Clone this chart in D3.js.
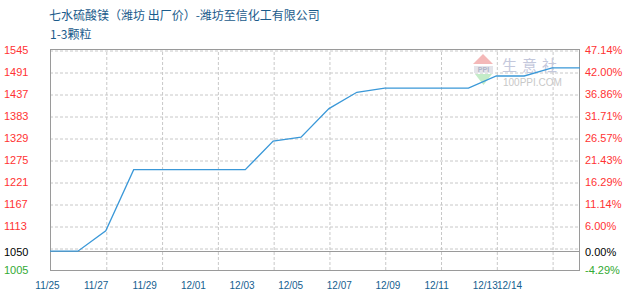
<!DOCTYPE html>
<html><head><meta charset="utf-8">
<script src="https://cdn.jsdelivr.net/npm/d3@7"></script>
<style>
body{margin:0;background:#fff;}
svg{display:block;}
</style></head>
<body><svg id="c" width="630" height="300"></svg>
<script>
const titleText = "七水硫酸镁（潍坊 出厂价）-潍坊至信化工有限公司";
const subTitle = "1-3颗粒";
const dates = ["2024-11-25","2024-11-26","2024-11-27","2024-11-28","2024-11-29","2024-11-30","2024-12-01","2024-12-02","2024-12-03","2024-12-04","2024-12-05","2024-12-06","2024-12-07","2024-12-08","2024-12-09","2024-12-10","2024-12-11","2024-12-12","2024-12-13","2024-12-14"];
const prices = [1050,1050,1100,1250,1250,1250,1250,1250,1320,1330,1400,1440,1450,1450,1450,1450,1480,1480,1500,1500];
const baseValue = 1050;
const leftTicks = [1545,1491,1437,1383,1329,1275,1221,1167,1113,1050,1005];
const rightTickLabels = ["47.14%","42.00%","36.86%","31.71%","26.57%","21.43%","16.29%","11.14%","6.00%","0.00%","-4.29%"];
const gridValues = [1545,1491,1437,1383,1329,1275,1221,1167,1113,1059];
const gridDates = ["2024-11-27","2024-11-29","2024-12-01","2024-12-03","2024-12-05","2024-12-07","2024-12-09","2024-12-11","2024-12-13"];
const xLabelDates = ["2024-11-25","2024-11-27","2024-11-29","2024-12-01","2024-12-03","2024-12-05","2024-12-07","2024-12-09","2024-12-11","2024-12-13","2024-12-14"];

const parse = d3.timeParse("%Y-%m-%d");
const fmt = d3.timeFormat("%m/%d");
const svg = d3.select("#c");
const L = 50, R = 580, T = 50, B = 270;

const x = d3.scaleTime().domain([parse(dates[0]), parse(dates[dates.length-1])]).range([L, R]);
const xLab = d3.scaleTime().domain([parse(dates[0]), parse(dates[dates.length-1])]).range([47, 509]);
const y = d3.scaleLinear().domain([1005, 1545]).range([B, T]);

const font = "'Liberation Sans', Arial, sans-serif";
const cjk = "'Noto Sans CJK SC', sans-serif";

// titles
svg.append("text").attr("x", 49).attr("y", 20).attr("font-family", cjk).attr("font-size", 12)
  .attr("fill", "#1b5b8b").text(titleText);
svg.append("text").attr("x", 50).attr("y", 39).attr("font-family", cjk).attr("font-size", 12)
  .attr("fill", "#1b5b8b").text(subTitle);

// horizontal dashed grid
svg.append("g").attr("transform", `translate(${L},0)`)
  .call(d3.axisLeft(y).tickValues(gridValues).tickSize(-(R-L)).tickFormat(""))
  .call(g => g.select(".domain").remove())
  .call(g => g.selectAll("line").attr("stroke", "#c8c8c8").attr("stroke-dasharray", "3,2")
     .attr("transform", "translate(0,0.5)"));

// vertical dashed grid
svg.append("g").attr("transform", `translate(0,${B})`)
  .call(d3.axisBottom(x).tickValues(gridDates.map(parse)).tickSize(-(B-T)).tickFormat(""))
  .call(g => g.select(".domain").remove())
  .call(g => g.selectAll("line").attr("stroke", "#c8c8c8").attr("stroke-dasharray", "3,2")
     .attr("transform", "translate(0.5,0)"));

// watermark
const wm = svg.append("g");
wm.append("path").attr("d", "M483,54 L493,64 L473,64 Z").attr("fill", "#f4b8b8");
wm.append("rect").attr("x", 474).attr("y", 66).attr("width", 19).attr("height", 7).attr("fill", "#e4e4ea");
wm.append("text").attr("x", 483.5).attr("y", 72).attr("text-anchor", "middle").attr("font-family", font)
  .attr("font-size", 7).attr("font-weight", "bold").attr("fill", "#b0b4c8").text("PPI");
wm.append("path").attr("d", "M475,74 L492,74 L483.5,85 Z").attr("fill", "#c4ecc8");
wm.append("text").attr("x", 502).attr("y", 71).attr("font-family", cjk).attr("font-size", 15)
  .attr("letter-spacing", 5).attr("fill", "#c4c8dc").text("生意社");
wm.append("text").attr("x", 503).attr("y", 86).attr("font-family", font).attr("font-size", 10)
  .attr("fill", "#c8c8c8").text("100PPI.COM");

// frame
const frame = svg.append("g").attr("stroke", "#9a9a9a").attr("fill", "none");
frame.append("line").attr("x1", L).attr("x2", R).attr("y1", T - 0.5).attr("y2", T - 0.5);
frame.append("line").attr("x1", L).attr("x2", R).attr("y1", B + 0.5).attr("y2", B + 0.5);
frame.append("line").attr("x1", L + 0.5).attr("x2", L + 0.5).attr("y1", T - 1).attr("y2", B + 1);
frame.append("line").attr("x1", R - 0.5).attr("x2", R - 0.5).attr("y1", T - 1).attr("y2", B + 1);
frame.append("line").attr("x1", L).attr("x2", R).attr("y1", Math.round(y(baseValue)) - 0.5).attr("y2", Math.round(y(baseValue)) - 0.5);

// line
const data = dates.map((d, i) => ({date: parse(d), v: prices[i]}));
svg.append("path").datum(data)
  .attr("fill", "none").attr("stroke", "#3a98d8").attr("stroke-width", 1.3)
  .attr("d", d3.line().x(d => x(d.date)).y(d => y(d.v) - 0.5));

const colorFor = v => v > baseValue ? "#ff3333" : (v === baseValue ? "#000000" : "#33aa33");

// left axis labels
svg.append("g").attr("transform", "translate(4,0)")
  .call(d3.axisRight(y).tickValues(leftTicks).tickSize(0).tickPadding(0).tickFormat(d3.format("d")))
  .call(g => g.select(".domain").remove())
  .call(g => g.selectAll("text").attr("font-family", font).attr("font-size", 11)
     .attr("fill", d => colorFor(d)));

// right axis labels
svg.append("g").attr("transform", "translate(585,0)")
  .call(d3.axisRight(y).tickValues(leftTicks).tickSize(0).tickPadding(0)
     .tickFormat((d, i) => rightTickLabels[i]))
  .call(g => g.select(".domain").remove())
  .call(g => g.selectAll("text").attr("font-family", font).attr("font-size", 11)
     .attr("fill", d => colorFor(d)));

// bottom date labels
svg.append("g").attr("transform", "translate(0,282)")
  .call(d3.axisBottom(xLab).tickValues(xLabelDates.map(parse)).tickSize(0).tickPadding(0).tickFormat(fmt))
  .call(g => g.select(".domain").remove())
  .call(g => g.selectAll("text").attr("font-family", font).attr("font-size", 10)
     .attr("fill", "#15608f"));
</script>
</body></html>
